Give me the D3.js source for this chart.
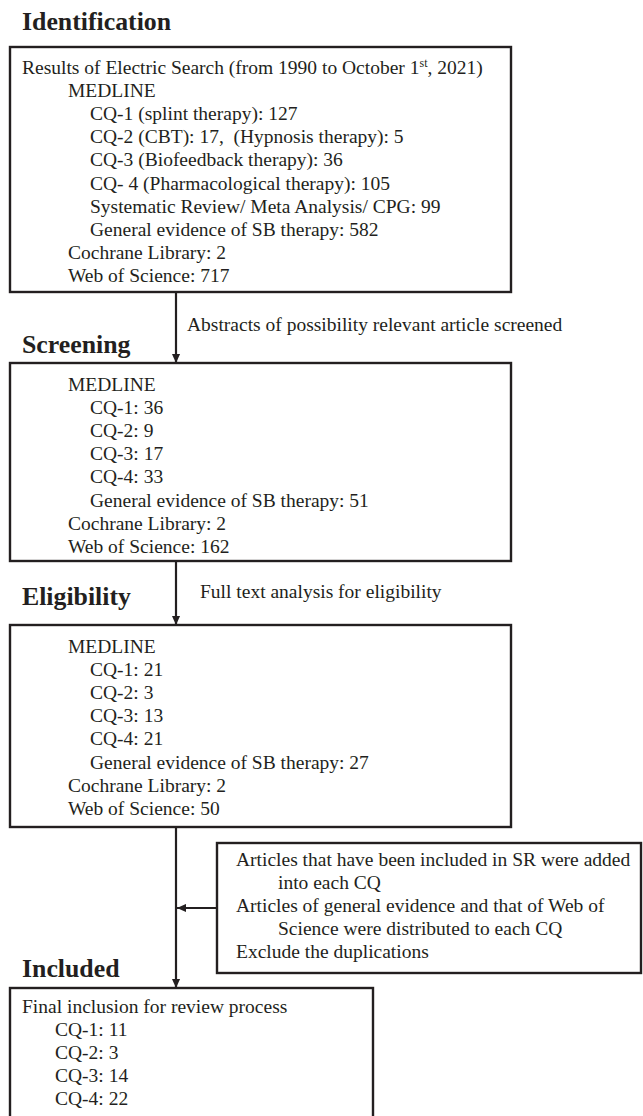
<!DOCTYPE html>
<html>
<head>
<meta charset="utf-8">
<script src="https://cdn.jsdelivr.net/npm/d3@7"></script>
<style>
  html, body { margin: 0; padding: 0; background: #fff; }
  svg { display: block; }
</style>
</head>
<body>
<div id="chart"></div>
<script>
// ---------------- data ----------------
const stageTitles = ["Identification", "Screening", "Eligibility", "Included"];
const cqLabels = ["CQ-1", "CQ-2", "CQ-3", "CQ-4"];
const identificationTopics = ["(splint therapy)", "(CBT)", "(Biofeedback therapy)", "(Pharmacological therapy)"];
const identificationCQ = [127, 17, 36, 105];
const hypnosisCount = 5;
const systematicReviewCount = 99;
const generalEvidence = [582, 51, 27];      // identification, screening, eligibility
const cochraneLibrary = [2, 2, 2];
const webOfScience = [717, 162, 50];
const screeningCQ = [36, 9, 17, 33];
const eligibilityCQ = [21, 3, 13, 21];
const includedCQ = [11, 3, 14, 22];
const arrowLabels = ["Abstracts of possibility relevant article screened", "Full text analysis for eligibility"];
const sideNotes = [
  {text: "Articles that have been included in SR were added", lvl: 0},
  {text: "into each CQ", lvl: 1},
  {text: "Articles of general evidence and that of Web of", lvl: 0},
  {text: "Science were distributed to each CQ", lvl: 1},
  {text: "Exclude the duplications", lvl: 0}
];

// ---------------- build text lines ----------------
const box1Lines = [
  {text: "Results of Electric Search (from 1990 to October 1", sup: "st", tail: ", 2021)", lvl: 0},
  {text: "MEDLINE", lvl: 1},
  {text: `${cqLabels[0]} ${identificationTopics[0]}: ${identificationCQ[0]}`, lvl: 2},
  {text: `${cqLabels[1]} ${identificationTopics[1]}: ${identificationCQ[1]},\u00a0 (Hypnosis therapy): ${hypnosisCount}`, lvl: 2},
  {text: `${cqLabels[2]} ${identificationTopics[2]}: ${identificationCQ[2]}`, lvl: 2},
  {text: `CQ- 4 ${identificationTopics[3]}: ${identificationCQ[3]}`, lvl: 2},
  {text: `Systematic Review/ Meta Analysis/ CPG: ${systematicReviewCount}`, lvl: 2},
  {text: `General evidence of SB therapy: ${generalEvidence[0]}`, lvl: 2},
  {text: `Cochrane Library: ${cochraneLibrary[0]}`, lvl: 1},
  {text: `Web of Science: ${webOfScience[0]}`, lvl: 1}
];
function midLines(cqVals, k) {
  return [{text: "MEDLINE", lvl: 1}]
    .concat(cqLabels.map((c, i) => ({text: `${c}: ${cqVals[i]}`, lvl: 2})))
    .concat([
      {text: `General evidence of SB therapy: ${generalEvidence[k]}`, lvl: 2},
      {text: `Cochrane Library: ${cochraneLibrary[k]}`, lvl: 1},
      {text: `Web of Science: ${webOfScience[k]}`, lvl: 1}
    ]);
}
const box2Lines = midLines(screeningCQ, 1);
const box3Lines = midLines(eligibilityCQ, 2);
const box4Lines = [{text: "Final inclusion for review process", lvl: 0}]
  .concat(cqLabels.map((c, i) => ({text: `${c}: ${includedCQ[i]}`, lvl: 3})));

// ---------------- layout ----------------
const W = 643, H = 1116;
const ink = "#231f20";
const bodyFont = "'Liberation Serif', 'Times New Roman', serif";
const bodySize = 19.5, headSize = 25.8, lineStep = 23.1;
const indentX = [22, 68, 90, 55];
const arrowX = 176;

const svg = d3.select("#chart").append("svg")
  .attr("width", W).attr("height", H)
  .attr("viewBox", `0 0 ${W} ${H}`);

const defs = svg.append("defs");
defs.append("marker")
  .attr("id", "head")
  .attr("viewBox", "0 0 10 10")
  .attr("refX", 10).attr("refY", 5)
  .attr("markerWidth", 10).attr("markerHeight", 9)
  .attr("markerUnits", "userSpaceOnUse")
  .attr("orient", "auto")
  .append("path")
  .attr("d", "M0,0.5 L10,5 L0,9.5 Z")
  .attr("fill", ink);

const boxes = [
  {x: 10, y: 47, w: 501, h: 245, lines: box1Lines, first: 74},
  {x: 10, y: 363, w: 501, h: 198, lines: box2Lines, first: 391},
  {x: 10, y: 625, w: 501, h: 202, lines: box3Lines, first: 653},
  {x: 10, y: 988, w: 363, h: 160, lines: box4Lines, first: 1013}
];
const headings = [
  {x: 22, y: 30}, {x: 22, y: 353}, {x: 22, y: 605}, {x: 22, y: 977}
];

// headings
svg.selectAll("text.head").data(stageTitles).join("text")
  .attr("class", "head")
  .attr("x", (d, i) => headings[i].x)
  .attr("y", (d, i) => headings[i].y)
  .attr("font-family", bodyFont)
  .attr("font-weight", "bold")
  .attr("font-size", headSize)
  .attr("fill", ink)
  .text(d => d);

// boxes
const bg = svg.selectAll("g.box").data(boxes).join("g").attr("class", "box");
bg.append("rect")
  .attr("x", d => d.x).attr("y", d => d.y)
  .attr("width", d => d.w).attr("height", d => d.h)
  .attr("fill", "none").attr("stroke", ink).attr("stroke-width", 2.4);

bg.each(function(b) {
  const g = d3.select(this);
  g.selectAll("text").data(b.lines).join("text")
    .attr("x", d => indentX[d.lvl])
    .attr("y", (d, i) => b.first + i * lineStep)
    .attr("font-family", bodyFont)
    .attr("font-size", bodySize)
    .attr("fill", ink)
    .each(function(d) {
      const t = d3.select(this);
      t.append("tspan").text(d.text);
      if (d.sup) {
        t.append("tspan").attr("dy", -7).attr("font-size", 12).text(d.sup);
        t.append("tspan").attr("dy", 7).text(d.tail);
      }
    });
});

// vertical arrows between boxes
const vArrows = [
  {y1: boxes[0].y + boxes[0].h, y2: boxes[1].y},
  {y1: boxes[1].y + boxes[1].h, y2: boxes[2].y},
  {y1: boxes[2].y + boxes[2].h, y2: boxes[3].y}
];
svg.selectAll("line.varrow").data(vArrows).join("line")
  .attr("class", "varrow")
  .attr("x1", arrowX).attr("x2", arrowX)
  .attr("y1", d => d.y1).attr("y2", d => d.y2)
  .attr("stroke", ink).attr("stroke-width", 2.2)
  .attr("marker-end", "url(#head)");

// arrow labels
const labelPos = [{x: 187, y: 331}, {x: 200, y: 598}];
svg.selectAll("text.alabel").data(arrowLabels).join("text")
  .attr("class", "alabel")
  .attr("x", (d, i) => labelPos[i].x)
  .attr("y", (d, i) => labelPos[i].y)
  .attr("font-family", bodyFont)
  .attr("font-size", bodySize)
  .attr("fill", ink)
  .text(d => d);

// side box
const side = {x: 217, y: 843, w: 424, h: 130, first: 866};
svg.append("rect")
  .attr("x", side.x).attr("y", side.y)
  .attr("width", side.w).attr("height", side.h)
  .attr("fill", "none").attr("stroke", ink).attr("stroke-width", 2.4);
const sideIndent = [236, 278];
svg.selectAll("text.side").data(sideNotes).join("text")
  .attr("class", "side")
  .attr("x", d => sideIndent[d.lvl])
  .attr("y", (d, i) => side.first + i * lineStep)
  .attr("font-family", bodyFont)
  .attr("font-size", bodySize)
  .attr("fill", ink)
  .text(d => d.text);

// horizontal arrow from side box into the main flow
svg.append("line")
  .attr("x1", side.x).attr("x2", arrowX + 1)
  .attr("y1", 908).attr("y2", 908)
  .attr("stroke", ink).attr("stroke-width", 2.2)
  .attr("marker-end", "url(#head)");
</script>
</body>
</html>
